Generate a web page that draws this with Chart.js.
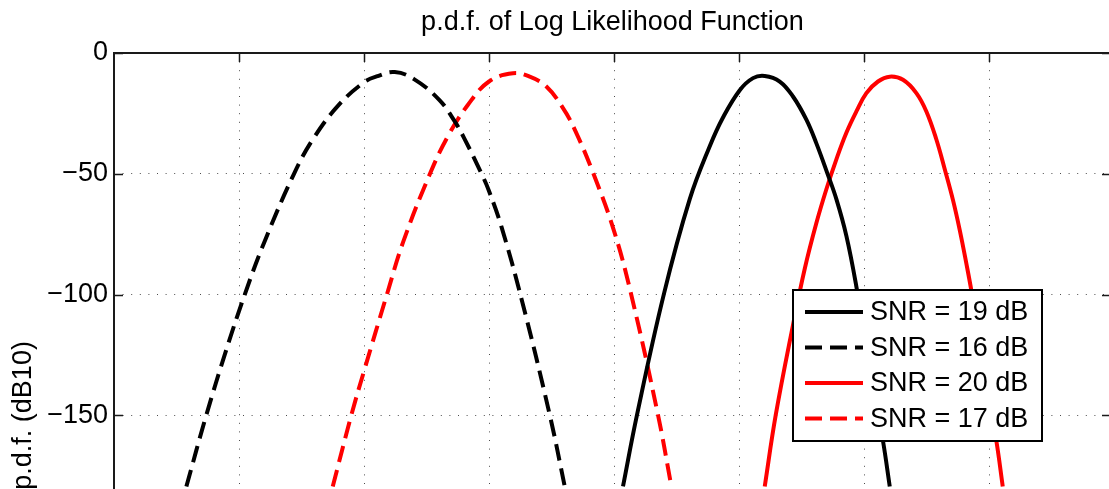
<!DOCTYPE html>
<html>
<head>
<meta charset="utf-8">
<script src="https://cdn.jsdelivr.net/npm/chart.js@4.4.0/dist/chart.umd.min.js"></script>
<style>
  html, body { margin: 0; padding: 0; background: #fff; }
  #wrap { width: 1109px; height: 489px; overflow: hidden; position: relative; }
  canvas { display: block; }
</style>
</head>
<body>
<div id="wrap"><canvas id="chart" width="1112" height="800"></canvas></div>
<script>
// Values (x in grid units, y in dB10)
const snr19X = [4.072, 4.184, 4.398, 4.606, 4.766, 4.872, 5.006, 5.112, 5.206, 5.326, 5.432, 5.539, 5.619, 5.707, 5.779, 5.859, 5.939, 6.152, 6.206];
const snr19Y = [-179.4, -149.8, -100.0, -60.5, -38.6, -26.7, -15.4, -10.4, -9.5, -11.8, -18.0, -27.6, -37.4, -49.8, -60.5, -75.7, -96.7, -160.6, -179.4];

const snr16X = [0.579, 0.739, 0.900, 1.046, 1.200, 1.442, 1.600, 1.800, 2.000, 2.100, 2.246, 2.400, 2.600, 2.726, 2.800, 2.939, 3.000, 3.100, 3.259, 3.486, 3.606];
const snr16Y = [-179.4, -149.8, -122.6, -100.0, -78.6, -49.8, -35.0, -21.4, -12.1, -9.7, -7.9, -10.8, -19.3, -28.3, -35.1, -49.8, -57.1, -72.0, -101.6, -149.8, -179.4];

const snr20X = [5.206, 5.294, 5.432, 5.526, 5.619, 5.699, 5.779, 5.859, 5.939, 6.019, 6.112, 6.206, 6.312, 6.419, 6.499, 6.579, 6.646, 6.712, 6.766, 6.819, 6.859, 7.059, 7.110];
const snr20Y = [-179.4, -149.8, -112.6, -89.3, -70.4, -56.4, -44.0, -33.0, -24.2, -16.6, -11.8, -9.8, -11.1, -16.6, -24.2, -35.8, -48.1, -60.9, -73.3, -87.2, -98.4, -160.6, -179.4];

const snr17X = [1.750, 1.898, 2.000, 2.183, 2.312, 2.526, 2.672, 2.832, 3.000, 3.192, 3.326, 3.459, 3.592, 3.686, 3.832, 4.000, 4.139, 4.352, 4.459];
const snr17Y = [-179.4, -150.0, -131.7, -100.0, -78.4, -50.2, -34.4, -21.4, -11.8, -8.4, -9.8, -13.9, -22.8, -31.7, -49.5, -73.6, -100.3, -149.8, -179.4];

const seriesLabels = ['SNR = 19 dB', 'SNR = 16 dB', 'SNR = 20 dB', 'SNR = 17 dB'];
const yTicksStep = 50;

const FONT = '"Liberation Sans", Arial, Helvetica, sans-serif';
const DASH = [17, 8];

function toPoints(xs, ys) {
    return xs.map((x, i) => ({ x: x, y: ys[i] }));
}

function lineSet(label, xs, ys, color, dashed) {
    return {
        label: label,
        data: toPoints(xs, ys),
        borderColor: color,
        borderWidth: 4,
        borderDash: dashed ? DASH : [],
        borderCapStyle: 'butt',
        borderJoinStyle: 'round',
        pointRadius: 0,
        fill: false,
        tension: 0.4
    };
}

// MATLAB style box with inward ticks
const framePlugin = {
    id: 'frame',
    afterDatasetsDraw(chart) {
        const { ctx, chartArea: a, scales: { x, y } } = chart;
        ctx.save();
        ctx.strokeStyle = '#1a1a1a';
        ctx.lineWidth = 1.5;
        ctx.beginPath();
        x.ticks.forEach(t => {
            const px = Math.round(x.getPixelForValue(t.value)) + 0.5;
            ctx.moveTo(px, a.top); ctx.lineTo(px, a.top + 9);
            ctx.moveTo(px, a.bottom); ctx.lineTo(px, a.bottom - 9);
        });
        y.ticks.forEach(t => {
            const py = Math.round(y.getPixelForValue(t.value)) + 0.5;
            ctx.moveTo(a.left, py); ctx.lineTo(a.left + 9, py);
            ctx.moveTo(a.right, py); ctx.lineTo(a.right - 9, py);
        });
        ctx.stroke();
        ctx.lineWidth = 2;
        ctx.strokeRect(a.left, a.top, a.right - a.left, a.bottom - a.top);
        ctx.restore();
    }
};

// legend box inside the axes
const boxLegend = {
    id: 'boxLegend',
    afterDraw(chart) {
        const ctx = chart.ctx;
        const bx = 793, by = 290, bw = 249, bh = 151;
        ctx.save();
        ctx.fillStyle = '#fff';
        ctx.fillRect(bx, by, bw, bh);
        ctx.lineWidth = 2;
        ctx.strokeStyle = '#000';
        ctx.setLineDash([]);
        ctx.strokeRect(bx, by, bw, bh);
        chart.data.datasets.forEach((ds, i) => {
            const cy = 312 + i * 35.5;
            ctx.beginPath();
            ctx.setLineDash(ds.borderDash);
            ctx.lineWidth = ds.borderWidth;
            ctx.strokeStyle = ds.borderColor;
            ctx.lineCap = 'butt';
            ctx.moveTo(805, cy);
            ctx.lineTo(863, cy);
            ctx.stroke();
            ctx.setLineDash([]);
            ctx.fillStyle = '#000';
            ctx.font = '27px ' + FONT;
            ctx.textBaseline = 'middle';
            ctx.textAlign = 'left';
            ctx.fillText(ds.label, 870, cy + 1);
        });
        ctx.restore();
    }
};

const gridOpts = {
    color: 'rgba(0,0,0,0.7)',
    lineWidth: 1,
    drawTicks: false
};

new Chart(document.getElementById('chart'), {
    type: 'line',
    data: {
        datasets: [
            lineSet(seriesLabels[0], snr19X, snr19Y, '#000000', false),
            lineSet(seriesLabels[1], snr16X, snr16Y, '#000000', true),
            lineSet(seriesLabels[2], snr20X, snr20Y, '#ff0000', false),
            lineSet(seriesLabels[3], snr17X, snr17Y, '#ff0000', true)
        ]
    },
    options: {
        responsive: false,
        animation: false,
        devicePixelRatio: 1,
        layout: { padding: { left: 0, right: 1, top: 0, bottom: 0 } },
        plugins: {
            legend: { display: false },
            tooltip: { enabled: false },
            title: {
                display: true,
                text: 'p.d.f. of Log Likelihood Function',
                color: '#000',
                fullSize: false,
                font: { family: FONT, size: 27, weight: 'normal' },
                padding: { top: 6, bottom: 14.6 }
            }
        },
        scales: {
            x: {
                type: 'linear',
                min: 0,
                max: 7.976,
                ticks: { display: false, stepSize: 1 },
                grid: gridOpts,
                border: { display: false, dash: [1, 7.6] },
                afterBuildTicks: s => { s.ticks = s.ticks.filter(t => Number.isInteger(t.value) && t.value > 0); },
                afterFit: s => { s.height = 18; }
            },
            y: {
                type: 'linear',
                min: -300,
                max: 0,
                ticks: {
                    stepSize: yTicksStep,
                    color: '#000',
                    padding: 6,
                    font: { family: FONT, size: 27 },
                    callback: v => v < 0 ? '\u2212' + Math.abs(v) : String(v)
                },
                grid: gridOpts,
                border: { display: false, dash: [1, 7.6] },
                title: {
                    display: true,
                    text: 'p.d.f. (dB10)',
                    color: '#000',
                    font: { family: FONT, size: 27 },
                    padding: { top: 7, bottom: 0 }
                },
                afterFit: s => { s.width = 114; }
            }
        }
    },
    plugins: [framePlugin, boxLegend]
});
</script>
</body>
</html>
